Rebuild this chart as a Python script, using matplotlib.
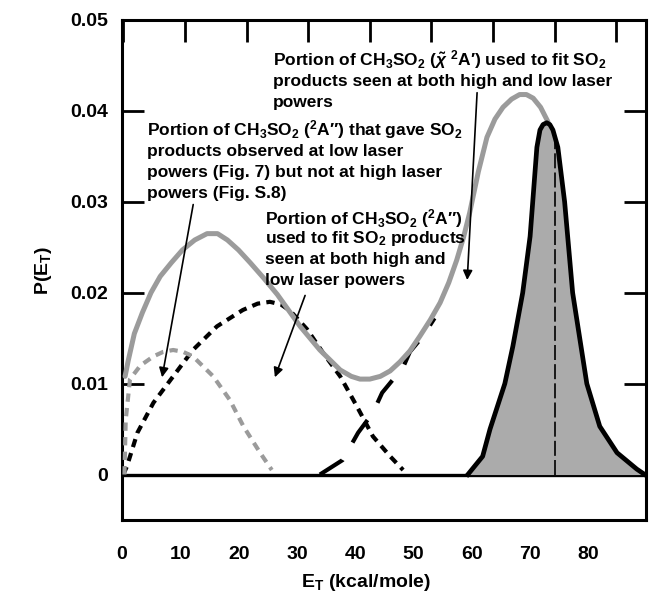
import matplotlib
matplotlib.use("Agg")
import matplotlib.pyplot as plt

plt.rcParams["font.family"] = ["Liberation Sans", "DejaVu Sans"]
plt.rcParams["font.weight"] = "bold"
plt.rcParams["mathtext.fontset"] = "custom"
plt.rcParams["mathtext.rm"] = "Liberation Sans:bold"
plt.rcParams["mathtext.bf"] = "Liberation Sans:bold"
plt.rcParams["mathtext.it"] = "Liberation Sans:italic:bold"

# ---- data (E_T in kcal/mol, P(E_T)) ----
total_x = [0.3, 0.8, 1.8, 3.1, 4.5, 6.0, 7.8, 9.6, 11.6, 13.6, 15.3, 16.9, 18.7,
           20.6, 22.8, 25.0, 28.7, 31.9, 35.2, 37.0, 38.4, 40.0, 41.7, 43.3, 44.9,
           46.5, 48.1, 49.8, 51.4, 52.8, 54.1, 55.2, 56.2, 57.6, 59.0, 60.3, 61.6,
           63.0, 64.3, 65.4, 66.5, 67.7, 68.9]
total_y = [0.0108, 0.0125, 0.0155, 0.0178, 0.0200, 0.0218, 0.0233, 0.0247, 0.0258,
           0.0265, 0.0265, 0.0258, 0.0247, 0.0233, 0.0216, 0.0198, 0.0163, 0.0137,
           0.0115, 0.0108, 0.0105, 0.0105, 0.0108, 0.0114, 0.0124, 0.0136, 0.0152,
           0.0170, 0.0189, 0.0211, 0.0236, 0.0261, 0.0288, 0.0333, 0.0371, 0.0391,
           0.0404, 0.0413, 0.0418, 0.0418, 0.0414, 0.0404, 0.0388]

a2_both_x = [0.0, 0.6, 2.3, 4.9, 8.1, 11.3, 15.2, 19.4, 21.8, 23.8, 25.6, 27.1,
             29.8, 32.4, 35.2, 37.9, 40.5, 43.3, 45.4]
a2_both_y = [0.0, 0.0009, 0.0046, 0.0079, 0.0108, 0.0137, 0.0163, 0.0181, 0.0188,
             0.0190, 0.0187, 0.0180, 0.0160, 0.0134, 0.0108, 0.0075, 0.0042, 0.0020,
             0.0005]

a2_low_x = [0.2, 0.4, 1.1, 2.8, 4.9, 6.5, 8.1, 9.7, 11.3, 14.6, 17.3, 19.5, 22.2, 24.1]
a2_low_y = [0.0, 0.0060, 0.0105, 0.0120, 0.0130, 0.0135, 0.0137, 0.0135, 0.0130,
            0.0108, 0.0082, 0.0053, 0.0024, 0.0005]

x_state_x = [31.9, 35.6, 38.1, 40.5, 42.0, 45.4, 46.5, 48.6, 50.5]
x_state_y = [0.0, 0.0016, 0.0046, 0.0068, 0.0090, 0.0118, 0.0135, 0.0152, 0.0172]

so2_x = [55.9, 58.3, 59.5, 61.9, 63.2, 64.8, 66.0, 67.1, 67.6, 68.1, 68.7, 69.2,
         69.7, 70.5, 71.6, 72.9, 75.2, 77.3, 80.1, 83.3, 84.6]
so2_y = [0.0, 0.0020, 0.0050, 0.0100, 0.0141, 0.0200, 0.0262, 0.0360, 0.0379,
         0.0385, 0.0387, 0.0385, 0.0379, 0.0360, 0.0300, 0.0200, 0.0100, 0.0053,
         0.0024, 0.0006, 0.0]

ref_line_x = 70.0
ref_line_top = 0.0366

x_ticks = [0, 10, 20, 30, 40, 50, 60, 70, 80]
x_tick_labels = ["0", "10", "20", "30", "40", "50", "60", "70", "80"]
y_ticks = [0, 0.01, 0.02, 0.03, 0.04, 0.05]
y_tick_labels = ["0", "0.01", "0.02", "0.03", "0.04", "0.05"]

GRAY = "#9b9b9b"
FILL = "#ababab"

fig = plt.figure(figsize=(6.49, 5.93), dpi=100)
ax = fig.add_axes([122 / 649, 1 - 520 / 593, 524 / 649, 500 / 593])

# bottom tick labels and axis title on their own scale
ax2 = ax.twiny()
ax2.set_xlim(0.358, 89.85)
ax2.xaxis.set_ticks_position("bottom")
ax2.xaxis.set_label_position("bottom")
ax2.set_xticks(x_ticks)
ax2.set_xticklabels(x_tick_labels)
ax2.tick_params(axis="x", length=0, labelsize=14, pad=19)
for lab in ax2.get_xticklabels():
    lab.set_fontweight("bold")
for s in ax2.spines.values():
    s.set_visible(False)
ax2.set_xlabel(r"E$_{\mathbf{T}}$ (kcal/mole)", fontsize=14, fontweight="bold",
               labelpad=6)
ax2.xaxis.label.set_x(0.465)

ax.set_xlim(-0.2, 84.8)
ax.set_ylim(-0.005, 0.05)

# zero baseline
ax.axhline(0, color="black", lw=2.4, zorder=1)

# shaded distribution
ax.fill_between(so2_x, so2_y, 0, color=FILL, lw=0, zorder=2)
ax.vlines(ref_line_x, 0, ref_line_top, colors="black", lw=1.2,
          linestyles=(0, (9, 2.5)), zorder=3)
ax.plot(so2_x, so2_y, color="black", lw=3.4, solid_joinstyle="round", zorder=6)

# components
ax.plot(x_state_x, x_state_y, color="black", lw=3.0, ls=(0, (6.5, 4.8)), zorder=3)
ax.plot(a2_both_x, a2_both_y, color="black", lw=3.0, ls=(0, (2.0, 1.5)), zorder=3)
ax.plot(a2_low_x, a2_low_y, color=GRAY, lw=3.0, ls=(0, (2.0, 1.5)), zorder=3)
ax.plot(total_x, total_y, color=GRAY, lw=3.6, solid_joinstyle="round",
        solid_capstyle="round", zorder=5)

# frame and ticks
for s in ax.spines.values():
    s.set_linewidth(2.2)
ax.xaxis.set_ticks_position("top")
ax.set_xticks(x_ticks)
ax.tick_params(axis="x", bottom=False, top=True, direction="in", length=16,
               width=2.0, labelbottom=False, labeltop=False)
ax.set_yticks(y_ticks)
ax.set_yticklabels(y_tick_labels)
ax.tick_params(axis="y", left=True, right=True, direction="in", length=16,
               width=2.0, labelsize=14, pad=10)
for lab in ax.get_yticklabels():
    lab.set_fontweight("bold")

ax.set_ylabel(r"P(E$_{\mathbf{T}}$)", fontsize=14, fontweight="bold", labelpad=12)

# annotations
FS = 12.5
ann1 = [r"Portion of CH$_3$SO$_2$ ($\tilde{\chi}$ $^2$A′) used to fit SO$_2$",
        "products seen at both high and low laser",
        "powers"]
ann2 = [r"Portion of CH$_3$SO$_2$ ($^2$A″) that gave SO$_2$",
        "products observed at low laser",
        "powers (Fig. 7) but not at high laser",
        "powers (Fig. S.8)"]
ann3 = [r"Portion of CH$_3$SO$_2$ ($^2$A″)",
        r"used to fit SO$_2$ products",
        "seen at both high and",
        "low laser powers"]


def block(lines, x0, y0, dy):
    for i, t in enumerate(lines):
        ax.text(x0, y0 - i * dy, t, fontsize=FS, fontweight="bold",
                ha="left", va="center", zorder=8)


block(ann1, 24.3, 0.0456, 0.00232)
block(ann2, 3.9, 0.0379, 0.00232)
block(ann3, 23.0, 0.0282, 0.00228)

arrow = dict(arrowstyle="-|>", lw=1.2, color="black", mutation_scale=14,
             shrinkA=0, shrinkB=0)
ax.annotate("", xy=(55.8, 0.0214), xytext=(57.4, 0.0420), arrowprops=arrow, zorder=9)
ax.annotate("", xy=(6.3, 0.0107), xytext=(11.35, 0.0297), arrowprops=arrow, zorder=9)
ax.annotate("", xy=(24.6, 0.0107), xytext=(29.5, 0.0197), arrowprops=arrow, zorder=9)

fig.savefig("out.png", dpi=100)
